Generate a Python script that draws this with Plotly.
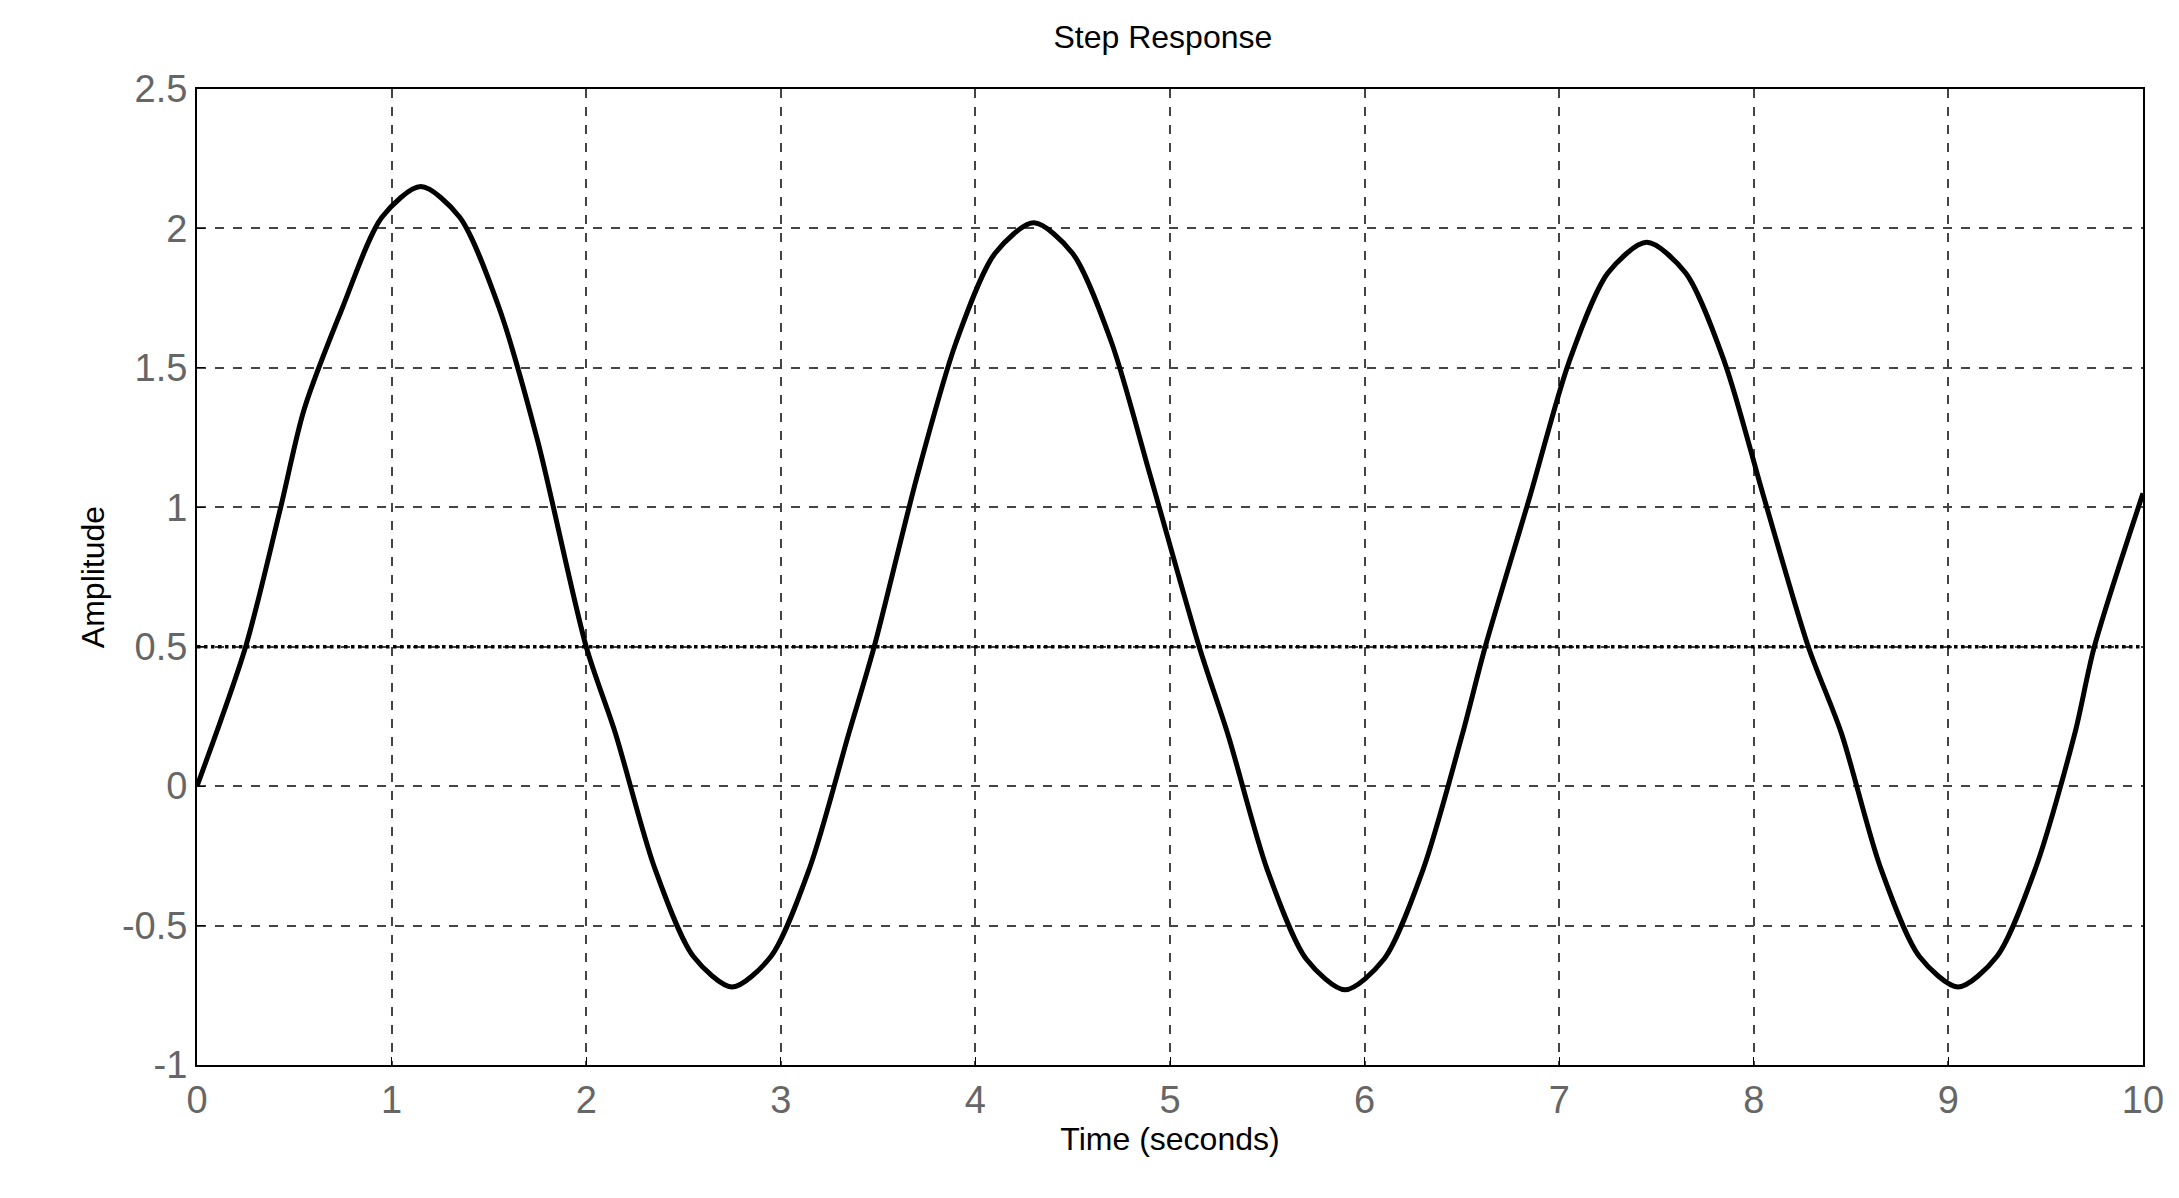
import plotly.graph_objects as go

# step response (time in s, amplitude)
t_vals = [0, 0.25, 0.43, 0.55, 0.75, 0.95, 1.15, 1.35, 1.55, 1.75, 2.0,
          2.15, 2.35, 2.55, 2.75, 2.95, 3.15, 3.35, 3.48,
          3.7, 3.9, 4.1, 4.3, 4.5, 4.7, 4.9, 5.15,
          5.3, 5.5, 5.7, 5.9, 6.1, 6.3, 6.5, 6.62,
          6.85, 7.05, 7.25, 7.45, 7.65, 7.85, 8.05, 8.28,
          8.45, 8.65, 8.85, 9.05, 9.25, 9.45, 9.65, 9.75, 10]
y_vals = [0, 0.5, 1.0, 1.35, 1.72, 2.04, 2.15, 2.04, 1.72, 1.24, 0.5,
          0.19, -0.29, -0.61, -0.72, -0.61, -0.29, 0.19, 0.5,
          1.11, 1.59, 1.91, 2.02, 1.91, 1.59, 1.11, 0.5,
          0.18, -0.30, -0.62, -0.73, -0.62, -0.30, 0.18, 0.5,
          1.04, 1.52, 1.84, 1.95, 1.84, 1.52, 1.04, 0.5,
          0.19, -0.29, -0.61, -0.72, -0.61, -0.29, 0.19, 0.5, 1.05]
ref_level = 0.5

x_ticks = list(range(0, 11))
y_ticks = [-1, -0.5, 0, 0.5, 1, 1.5, 2, 2.5]
y_labels = ["-1", "-0.5", "0", "0.5", "1", "1.5", "2", "2.5"]

fig = go.Figure()
fig.add_trace(go.Scatter(x=[0, 10], y=[ref_level, ref_level], mode="lines",
                         line=dict(color="black", width=3.5, dash="dot"), hoverinfo="skip"))
fig.add_trace(go.Scatter(x=t_vals, y=y_vals, mode="lines",
                         line=dict(color="black", width=5, shape="spline", smoothing=0.8)))

axis_common = dict(showline=True, linecolor="black", linewidth=2, mirror=True,
                   showgrid=True, gridcolor="#444444", griddash="dash", gridwidth=1.5,
                   zeroline=False, ticks="inside", ticklen=8, tickcolor="black",
                   tickfont=dict(family="Liberation Sans", size=38, color="#666666"))

fig.update_xaxes(range=[0, 10], tickvals=x_ticks,
                 title=dict(text="Time (seconds)", font=dict(family="Liberation Sans", size=32, color="black"), standoff=4),
                 **axis_common)
fig.update_yaxes(range=[-1, 2.5], tickvals=y_ticks, ticktext=y_labels,
                 title=dict(text="Amplitude", font=dict(family="Liberation Sans", size=32, color="black"), standoff=8),
                 **axis_common)

fig.update_layout(
    width=2179, height=1198,
    margin=dict(l=189, r=44, t=81, b=141),
    title=dict(text="Step Response", x=0.53, xanchor="center", y=0.985, yanchor="top",
               font=dict(family="Liberation Sans", size=32, color="black")),
    showlegend=False,
    plot_bgcolor="white", paper_bgcolor="white",
)
fig.write_html("out.html")
